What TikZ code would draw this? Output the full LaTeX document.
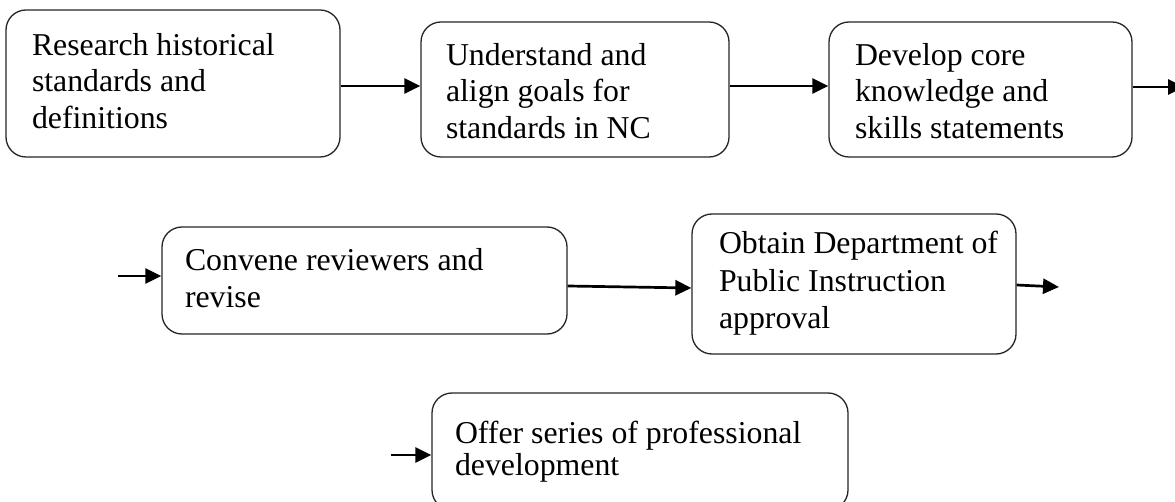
\documentclass[tikz,border=0pt]{standalone}
\usepackage{fontspec}
\setmainfont{Liberation Serif}
\usetikzlibrary{arrows.meta}
% #1 width, #2 height, #3 left pad, #4 top gap, #5 baselineskip, #6 text
\newcommand\boxtxt[6]{\parbox[c][#2][t]{#1}{\fontsize{31.8pt}{#5}\selectfont
  \leftskip=#3\relax\rightskip=0pt plus 1fil\relax\parindent=0pt\relax
  \vspace*{#4}#6}}
\tikzset{
  stepbox/.style={draw=black!85, line width=1.3pt, rounded corners=20pt, inner sep=0pt, fill=white},
  arr/.style={line width=2.7pt, -{Triangle[length=16pt,width=15pt]}},
}
\begin{document}
\begin{tikzpicture}[x=1pt,y=-1pt]
\clip (0,0) rectangle (1175,502);
\fill[white] (0,0) rectangle (1175,502);
% row 1
\node[stepbox, minimum width=334pt, minimum height=147pt] (b1) at (173,83.5)
  {\boxtxt{334pt}{147pt}{26pt}{23.3pt}{36.5pt}{Research historical\\standards and\\definitions}};
\node[stepbox, minimum width=308pt, minimum height=135pt] (b2) at (575,89.5)
  {\boxtxt{308pt}{135pt}{25pt}{21.3pt}{36.5pt}{Understand and\\align goals for\\standards in NC}};
\node[stepbox, minimum width=303pt, minimum height=135pt] (b3) at (980.5,89.5)
  {\boxtxt{303pt}{135pt}{26pt}{21.3pt}{36.5pt}{Develop core\\knowledge and\\skills statements}};
% row 2
\node[stepbox, minimum width=405pt, minimum height=107pt] (b4) at (364.5,280.5)
  {\boxtxt{405pt}{107pt}{23pt}{21.3pt}{37.5pt}{Convene reviewers and\\revise}};
\node[stepbox, minimum width=324pt, minimum height=140pt] (b5) at (854,284)
  {\boxtxt{324pt}{140pt}{27pt}{17.3pt}{37.5pt}{Obtain Department of\\Public Instruction\\approval}};
% row 3
\node[stepbox, minimum width=416pt, minimum height=117pt] (b6) at (640,451.5)
  {\boxtxt{416pt}{117pt}{23pt}{28.3pt}{32pt}{Offer series of professional\\development}};
% free ends
\coordinate (e3) at (1184,87);
\coordinate (s4) at (118,276);
\coordinate (e5) at (1059,287);
\coordinate (s6) at (391,455);
% connectors
\draw[arr] ([yshift=-2.5pt]b1.east) -- ([yshift=3.5pt]b2.west);
\draw[arr] ([yshift=3.5pt]b2.east) -- ([yshift=3.5pt]b3.west);
\draw[arr] ([yshift=2.5pt]b3.east) -- (e3);
\draw[arr] (s4) -- ([yshift=4.5pt]b4.west);
\draw[arr] ([yshift=-5.5pt]b4.east) -- ([yshift=-4pt]b5.west);
\draw[arr] ([yshift=-1pt]b5.east) -- (e5);
\draw[arr] (s6) -- ([yshift=-3.5pt]b6.west);
\end{tikzpicture}
\end{document}
